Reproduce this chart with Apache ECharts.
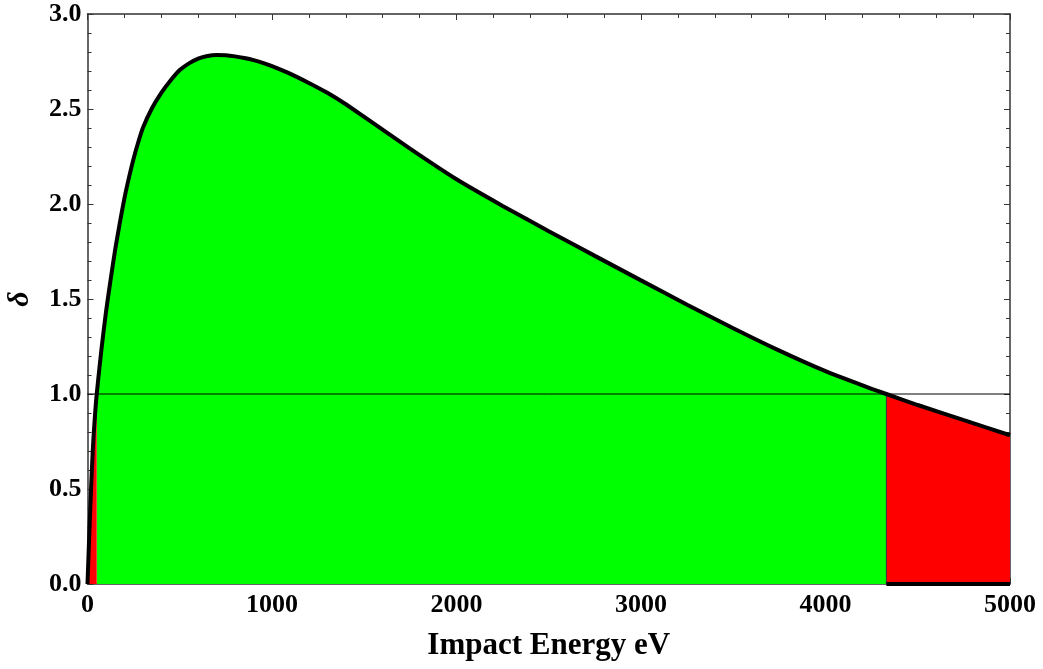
<!DOCTYPE html>
<html>
<head>
<meta charset="utf-8">
<script src="https://cdn.jsdelivr.net/npm/echarts@6/dist/echarts.min.js"></script>
<style>
  html, body { margin: 0; padding: 0; background: #fff; }
  #main { width: 1043px; height: 669px; }
</style>
</head>
<body>
<div id="main"></div>
<script>
// impact energy (eV) and yield delta
const energy = [0, 10, 20, 30, 40, 50, 75, 100, 125, 150, 175, 200, 225, 250, 275, 300,
  350, 400, 450, 500, 550, 600, 650, 700, 750, 800, 850, 900, 950, 1000,
  1100, 1200, 1300, 1400, 1500, 1750, 2000, 2250, 2500, 2750, 3000, 3250,
  3500, 3750, 4000, 4250, 4330, 4500, 4750, 5000]
const delta = [0, 0.27, 0.52, 0.73, 0.88, 1.00, 1.23, 1.43, 1.60, 1.76, 1.90, 2.03, 2.14, 2.24, 2.325, 2.40,
  2.505, 2.585, 2.65, 2.705, 2.74, 2.765, 2.779, 2.784, 2.783, 2.777, 2.768, 2.757, 2.743, 2.726,
  2.685, 2.637, 2.585, 2.525, 2.458, 2.29, 2.13, 1.99, 1.857, 1.727, 1.598, 1.47,
  1.346, 1.228, 1.12, 1.027, 1.00, 0.942, 0.862, 0.783]
// energies where delta crosses 1
const crossLow = 50
const crossHigh = 4330
const xTicks = [0, 1000, 2000, 3000, 4000, 5000]
const yTicks = [0, 0.5, 1.0, 1.5, 2.0, 2.5, 3.0]

const curve = energy.map((e, i) => [e, delta[i]])
const greenPart = curve.filter(p => p[0] >= crossLow && p[0] <= crossHigh)
const redLeft = curve.filter(p => p[0] <= crossLow)
const redRight = curve.filter(p => p[0] >= crossHigh)

const font = '"Liberation Serif", "Times New Roman", serif'
const frame = '#333'
const smooth = 0.2

const chart = echarts.init(document.getElementById('main'))

const xBase = {
  type: 'value',
  min: xTicks[0],
  max: xTicks[xTicks.length - 1],
  interval: 1000,
  axisLine: { show: true, onZero: false, lineStyle: { color: frame, width: 1.5 } },
  axisTick: { inside: true, length: 6, lineStyle: { color: frame } },
  minorTick: { show: true, splitNumber: 5, length: 4, lineStyle: { color: frame } },
  splitLine: { show: false }
}
const yBase = {
  type: 'value',
  min: yTicks[0],
  max: yTicks[yTicks.length - 1],
  interval: 0.5,
  axisLine: { show: true, onZero: false, lineStyle: { color: frame, width: 1.5 } },
  axisTick: { inside: true, length: 6, lineStyle: { color: frame } },
  minorTick: { show: true, splitNumber: 5, length: 4, lineStyle: { color: frame } },
  splitLine: { show: false }
}

chart.setOption({
  animation: false,
  grid: { left: 87.5, top: 14, right: 33, bottom: 85, containLabel: false, outerBoundsMode: 'none' },
  xAxis: [
    Object.assign({}, xBase, {
      position: 'bottom',
      name: 'Impact Energy eV',
      nameLocation: 'middle',
      nameGap: 46,
      nameTextStyle: { fontFamily: font, fontWeight: 'bold', fontSize: 31, color: '#000' },
      axisLabel: {
        margin: 8, fontFamily: font, fontWeight: 'bold', fontSize: 26, color: '#000',
        formatter: v => String(v)
      }
    }),
    Object.assign({}, xBase, { position: 'top', axisLabel: { show: false } })
  ],
  yAxis: [
    Object.assign({}, yBase, {
      position: 'left',
      name: 'δ',
      nameLocation: 'middle',
      nameGap: 52,
      nameTextStyle: { fontFamily: font, fontWeight: 'bold', fontStyle: 'italic', fontSize: 30, color: '#000' },
      axisLabel: {
        margin: 6, fontFamily: font, fontWeight: 'bold', fontSize: 26, color: '#000',
        formatter: v => v.toFixed(1)
      }
    }),
    Object.assign({}, yBase, { position: 'right', axisLabel: { show: false } })
  ],
  series: [
    {
      name: 'green',
      type: 'line',
      data: greenPart,
      smooth: smooth,
      symbol: 'none',
      lineStyle: { width: 0 },
      areaStyle: { color: '#00ff00', opacity: 1 },
      z: 1
    },
    {
      name: 'redLeft',
      type: 'line',
      data: redLeft,
      smooth: smooth,
      symbol: 'none',
      lineStyle: { width: 0 },
      areaStyle: { color: '#ff0000', opacity: 1 },
      z: 1
    },
    {
      name: 'redRight',
      type: 'line',
      data: redRight,
      smooth: smooth,
      symbol: 'none',
      lineStyle: { width: 0 },
      areaStyle: { color: '#ff0000', opacity: 1 },
      z: 1
    },
    {
      // edge between green and red
      type: 'line',
      data: [[crossHigh, 0], [crossHigh, 1]],
      symbol: 'none',
      lineStyle: { color: '#333', width: 1 },
      z: 2
    },
    {
      // delta = 1 reference line
      type: 'line',
      data: [[xTicks[0], 1], [xTicks[xTicks.length - 1], 1]],
      symbol: 'none',
      lineStyle: { color: '#000', width: 1 },
      z: 3
    },
    {
      type: 'line',
      data: [[crossHigh, 0], [xTicks[xTicks.length - 1], 0]],
      symbol: 'none',
      clip: false,
      lineStyle: { color: '#000', width: 4 },
      z: 4
    },
    {
      name: 'delta',
      type: 'line',
      data: curve,
      smooth: smooth,
      symbol: 'none',
      lineStyle: { color: '#000', width: 4 },
      z: 5
    }
  ]
})
</script>
</body>
</html>
